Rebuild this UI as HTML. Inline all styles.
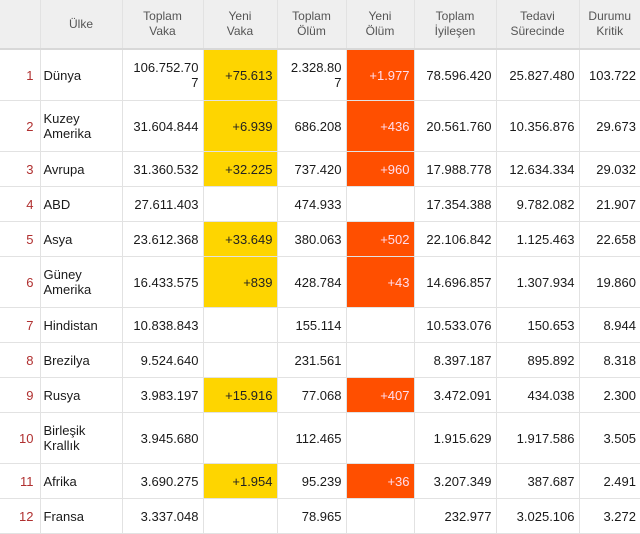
<!DOCTYPE html>
<html><head><meta charset="utf-8"><style>
body{margin:0;background:#fff;width:640px;height:533px;overflow:hidden}
table{border-collapse:collapse;table-layout:fixed;width:640px;font-family:"Liberation Sans",sans-serif;font-size:13px;color:#1a1a1a}
td,th{border:1px solid #e2e2e2;padding:0 4px;overflow:hidden;line-height:15px}
tr>*:first-child{border-left:none}
tr>*:last-child{border-right:none}
th{border-top:none;background:#efefef;color:#555;font-weight:normal;font-size:12px;height:48px;text-align:center;border-bottom:2px solid #d8d8d8}
td{text-align:right;white-space:normal}
td.i{color:#b03030;text-align:right;padding-right:6px}
td.c{text-align:left;padding-left:3px}
td.y{background:#fed500;color:#222}
td.o{background:#ff4f00;color:#fde}
tr.t td{height:50px}
tr.s td{height:34px}
</style></head><body>
<table>
<colgroup><col style="width:40px"><col style="width:82px"><col style="width:81px"><col style="width:74px"><col style="width:69px"><col style="width:68px"><col style="width:82px"><col style="width:83px"><col style="width:61px"></colgroup>
<tr><th></th><th>Ülke</th><th>Toplam<br>Vaka</th><th>Yeni<br>Vaka</th><th>Toplam<br>Ölüm</th><th>Yeni<br>Ölüm</th><th>Toplam<br>İyileşen</th><th>Tedavi<br>Sürecinde</th><th>Durumu<br>Kritik</th></tr>
<tr class="t"><td class="i">1</td><td class="c">Dünya</td><td>106.752.70<br>7</td><td class="y">+75.613</td><td>2.328.80<br>7</td><td class="o">+1.977</td><td>78.596.420</td><td>25.827.480</td><td>103.722</td></tr>
<tr class="t"><td class="i">2</td><td class="c">Kuzey<br>Amerika</td><td>31.604.844</td><td class="y">+6.939</td><td>686.208</td><td class="o">+436</td><td>20.561.760</td><td>10.356.876</td><td>29.673</td></tr>
<tr class="s"><td class="i">3</td><td class="c">Avrupa</td><td>31.360.532</td><td class="y">+32.225</td><td>737.420</td><td class="o">+960</td><td>17.988.778</td><td>12.634.334</td><td>29.032</td></tr>
<tr class="s"><td class="i">4</td><td class="c">ABD</td><td>27.611.403</td><td></td><td>474.933</td><td></td><td>17.354.388</td><td>9.782.082</td><td>21.907</td></tr>
<tr class="s"><td class="i">5</td><td class="c">Asya</td><td>23.612.368</td><td class="y">+33.649</td><td>380.063</td><td class="o">+502</td><td>22.106.842</td><td>1.125.463</td><td>22.658</td></tr>
<tr class="t"><td class="i">6</td><td class="c">Güney<br>Amerika</td><td>16.433.575</td><td class="y">+839</td><td>428.784</td><td class="o">+43</td><td>14.696.857</td><td>1.307.934</td><td>19.860</td></tr>
<tr class="s"><td class="i">7</td><td class="c">Hindistan</td><td>10.838.843</td><td></td><td>155.114</td><td></td><td>10.533.076</td><td>150.653</td><td>8.944</td></tr>
<tr class="s"><td class="i">8</td><td class="c">Brezilya</td><td>9.524.640</td><td></td><td>231.561</td><td></td><td>8.397.187</td><td>895.892</td><td>8.318</td></tr>
<tr class="s"><td class="i">9</td><td class="c">Rusya</td><td>3.983.197</td><td class="y">+15.916</td><td>77.068</td><td class="o">+407</td><td>3.472.091</td><td>434.038</td><td>2.300</td></tr>
<tr class="t"><td class="i">10</td><td class="c">Birleşik<br>Krallık</td><td>3.945.680</td><td></td><td>112.465</td><td></td><td>1.915.629</td><td>1.917.586</td><td>3.505</td></tr>
<tr class="s"><td class="i">11</td><td class="c">Afrika</td><td>3.690.275</td><td class="y">+1.954</td><td>95.239</td><td class="o">+36</td><td>3.207.349</td><td>387.687</td><td>2.491</td></tr>
<tr class="s"><td class="i">12</td><td class="c">Fransa</td><td>3.337.048</td><td></td><td>78.965</td><td></td><td>232.977</td><td>3.025.106</td><td>3.272</td></tr>
</table>
</body></html>
